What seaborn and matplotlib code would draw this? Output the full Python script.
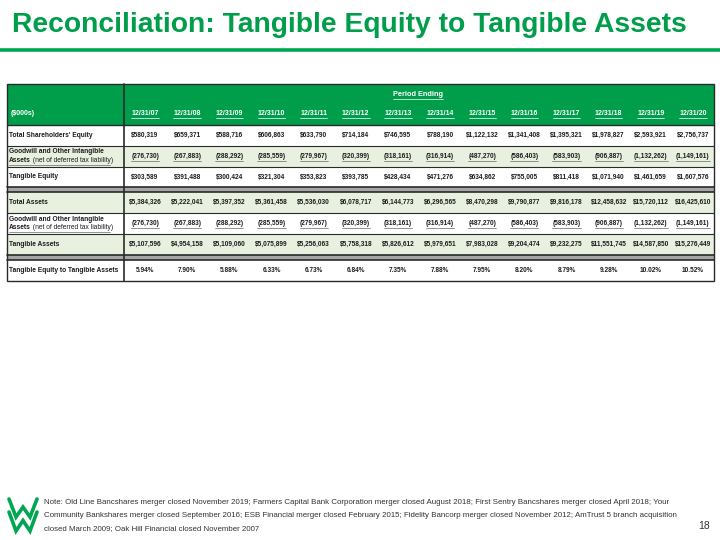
#Reconciliation table: tangible equity to tangible assets, drawn with seaborn heatmaps
import matplotlib
matplotlib.use("Agg")
import matplotlib.pyplot as plt
from matplotlib.colors import ListedColormap
from matplotlib.patches import Rectangle
import numpy as np
import seaborn as sns

# === Data ===
dates = ["12/31/07", "12/31/08", "12/31/09", "12/31/10", "12/31/11", "12/31/12", "12/31/13",
         "12/31/14", "12/31/15", "12/31/16", "12/31/17", "12/31/18", "12/31/19", "12/31/20"]
total_equity = [580319, 659371, 588716, 606863, 633790, 714184, 746595,
                788190, 1122132, 1341408, 1395321, 1978827, 2593921, 2756737]
goodwill = [276730, 267883, 288292, 285559, 279967, 320399, 318161,
            316914, 487270, 586403, 583903, 906887, 1132262, 1149161]
tangible_equity = [303589, 391488, 300424, 321304, 353823, 393785, 428434,
                   471276, 634862, 755005, 811418, 1071940, 1461659, 1607576]
total_assets = [5384326, 5222041, 5397352, 5361458, 5536030, 6078717, 6144773,
                6296565, 8470298, 9790877, 9816178, 12458632, 15720112, 16425610]
tangible_assets = [5107596, 4954158, 5109060, 5075899, 5256063, 5758318, 5826612,
                   5979651, 7983028, 9204474, 9232275, 11551745, 14587850, 15276449]
te_ta_ratio = [5.94, 7.90, 5.88, 6.33, 6.73, 6.84, 7.35, 7.88, 7.95, 8.20, 8.79, 9.28, 10.02, 10.52]

title = "Reconciliation: Tangible Equity to Tangible Assets"
notes = ["Note: Old Line Bancshares merger closed November 2019; Farmers Capital Bank Corporation merger closed August 2018; First Sentry Bancshares merger closed April 2018; Your",
         "Community Bankshares merger closed September 2016; ESB Financial merger closed February 2015; Fidelity Bancorp merger closed November 2012; AmTrust 5 branch acquisition",
         "closed March 2009; Oak Hill Financial closed November 2007"]
page_number = "18"

# === Styling ===
GREEN = "#009e4b"
LIGHT = "#e8f1e0"
SEP_GRAY = "#a6a6a6"
INK = "#1c1c1c"
LINE = "#2a2a2a"

sns.set_theme(style="white")
plt.rcParams['font.family'] = ['Liberation Sans', 'DejaVu Sans']

W, H = 720, 540
fig = plt.figure(figsize=(7.2, 5.4), dpi=100)

def px_axes(x0, y0, x1, y1, z=1):
    return fig.add_axes([x0 / W, 1 - y1 / H, (x1 - x0) / W, (y1 - y0) / H], zorder=z)

def page_axes(z):
    ax = fig.add_axes([0, 0, 1, 1], zorder=z)
    ax.set_xlim(0, W)
    ax.set_ylim(H, 0)
    ax.axis("off")
    ax.patch.set_visible(False)
    return ax

page = page_axes(0)
top = page_axes(10)

money = lambda v: f"${v:,}"
paren = lambda v: f"({v:,})"
pct = lambda v: f"{v:.2f}%"

GOODWILL = "goodwill"
blocks = [
    [("Total Shareholders' Equity", [money(v) for v in total_equity], 0),
     (GOODWILL, [paren(v) for v in goodwill], 1),
     ("Tangible Equity", [money(v) for v in tangible_equity], 0)],
    [("Total Assets", [money(v) for v in total_assets], 1),
     (GOODWILL, [paren(v) for v in goodwill], 0),
     ("Tangible Assets", [money(v) for v in tangible_assets], 1)],
    [("Tangible Equity to Tangible Assets", [pct(v) for v in te_ta_ratio], 0)],
]

# table geometry (pixels)
X0, XL, X1 = 7, 124, 714
Y_TOP, Y_HEAD = 84, 125
ROW_H, SEP_H = 20.8, 5.0
LAB_FS = 4.75
shade_cmap = ListedColormap(["white", LIGHT])

# title + rule
page.text(12, 25, title, fontsize=20.3, fontweight="bold", color=GREEN, va="center")
page.plot([0, W], [50, 50], color="#00a651", lw=2.6, solid_capstyle="butt")

# header
page.add_patch(Rectangle((X0, Y_TOP), X1 - X0, Y_HEAD - Y_TOP, color=GREEN, lw=0))
head_ax = px_axes(XL, 102, X1, Y_HEAD, z=2)
sns.heatmap(np.zeros((1, len(dates))), cmap=ListedColormap([GREEN]), vmin=0, vmax=1,
            annot=np.array([dates]), fmt="", cbar=False, ax=head_ax,
            xticklabels=False, yticklabels=False,
            annot_kws=dict(fontsize=5, fontweight="bold", color="white"))
page.text(11, 113.5, "($000s)", fontsize=5, fontweight="bold", color="white", va="center", zorder=3)
period = top.text(418, 95, "Period Ending", fontsize=5.3, fontweight="bold", color="white",
                  ha="center", va="center")

underline = [period] + list(head_ax.texts)
label_texts = []
seps = []
y = Y_HEAD
for bi, rows in enumerate(blocks):
    n = len(rows)
    y_end = y + n * ROW_H
    shade = np.array([[r[2]] for r in rows], dtype=float)
    lab_ax = px_axes(X0, y, XL, y_end)
    sns.heatmap(shade, cmap=shade_cmap, vmin=0, vmax=1, cbar=False, ax=lab_ax,
                xticklabels=False, yticklabels=False)
    val_ax = px_axes(XL, y, X1, y_end)
    sns.heatmap(np.repeat(shade, len(dates), axis=1), cmap=shade_cmap, vmin=0, vmax=1,
                annot=np.array([r[1] for r in rows]), fmt="", cbar=False, ax=val_ax,
                xticklabels=False, yticklabels=False,
                annot_kws=dict(fontsize=4.7, fontweight="bold", color=INK))
    for ri, (label, vals, s) in enumerate(rows):
        yc = y + (ri + 0.5) * ROW_H
        if label == GOODWILL:
            top.text(9, yc - 4.3, "Goodwill and Other Intangible", fontsize=LAB_FS, fontweight="bold",
                     color=INK, va="center")
            a = top.text(9, yc + 4.3, "Assets", fontsize=LAB_FS, fontweight="bold", color=INK, va="center")
            label_texts.append(a)
            underline += [t for t in val_ax.texts if abs(t.get_position()[1] - (ri + 0.5)) < 0.01]
        else:
            top.text(9, yc, label, fontsize=LAB_FS, fontweight="bold", color=INK, va="center")
        if ri > 0:
            top.plot([X0, X1], [y + ri * ROW_H] * 2, color=LINE, lw=0.8)
    y = y_end
    if bi < len(blocks) - 1:
        page.add_patch(Rectangle((X0, y), X1 - X0, SEP_H, color=SEP_GRAY, lw=0))
        seps.append(y)
        y += SEP_H
Y_BOT = y

# lines around header, separators and border
top.plot([X0, X1], [Y_HEAD] * 2, color=LINE, lw=1.0)
for s in seps:
    top.plot([X0, X1], [s, s], color=LINE, lw=1.2)
    top.plot([X0, X1], [s + SEP_H] * 2, color=LINE, lw=1.2)
top.plot([XL, XL], [Y_TOP, Y_BOT], color=LINE, lw=1.2)
top.add_patch(Rectangle((X0, Y_TOP), X1 - X0, Y_BOT - Y_TOP, fill=False, ec=LINE, lw=1.0))

# footer
for i, line in enumerate(notes):
    page.text(44, 503 + i * 12.8, line, fontsize=5.7, color="#333333", va="center")
page.text(704, 526, page_number, fontsize=7.5, color="#333333", ha="center", va="center")
lx = np.array([0, 0.25, 0.5, 0.75, 1.0])
ly = np.array([0, 1, 0.45, 1, 0])
page.plot(9 + lx * 28, 499 + ly * 18, color="#00a651", lw=2.6, solid_joinstyle="miter")
page.plot(9 + lx * 28, 512 + ly * 19, color="#00a651", lw=2.6, solid_joinstyle="miter")

# second pass: mixed-weight label and underlines need measured text extents
fig.canvas.draw()
r = fig.canvas.get_renderer()
for a in label_texts:
    bb = a.get_window_extent(r)
    yc = a.get_position()[1]
    top.text(bb.x1, yc, " (net of deferred tax liability)", fontsize=LAB_FS, color=INK, va="center")
fig.canvas.draw()
for a in label_texts:
    yc = a.get_position()[1]
    top.plot([9, 110], [yc + 4, yc + 4], color="#666666", lw=0.5)
for t in underline:
    bb = t.get_window_extent(r)
    col = "white" if t.get_color() == "white" else "#666666"
    top.plot([bb.x0, bb.x1], [H - bb.y0 + 0.8] * 2, color=col, lw=0.5)

fig.savefig("out.png", dpi=100)
